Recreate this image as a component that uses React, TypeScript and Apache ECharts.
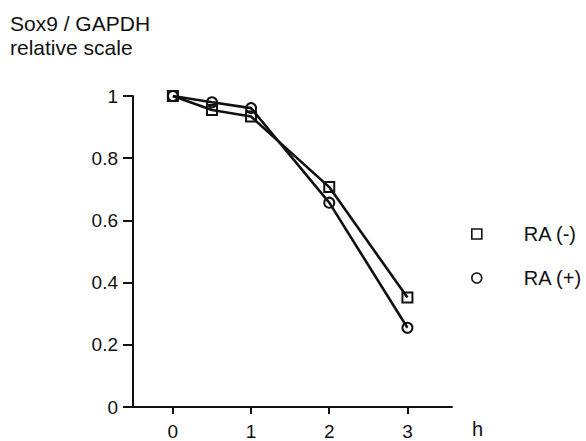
import React, { useEffect, useRef } from "react";
import * as echarts from "echarts";

const hours = [0, 0.5, 1, 2, 3];
const raMinus = [1.0, 0.955, 0.934, 0.707, 0.352];
const raPlus = [1.0, 0.98, 0.961, 0.657, 0.255];
const xTicks = [0, 1, 2, 3];
const seriesNames = ["RA (-)", "RA (+)"];
const titleText = "Sox9 / GAPDH\nrelative scale";
const xName = "h";

const FONT = "'Liberation Sans', Arial, Helvetica, sans-serif";
const INK = "#111";

export default function App() {
  const ref = useRef<HTMLDivElement>(null);
  useEffect(() => {
    if (!ref.current) return;
    const chart = echarts.init(ref.current, null, { renderer: "svg" });
    const pair = (xs: number[], ys: number[]) => xs.map((x, i) => [x, ys[i]]);
    chart.setOption({
      animation: false,
      backgroundColor: "#fff",
      textStyle: { fontFamily: FONT, color: INK },
      title: {
        text: titleText,
        left: 10,
        top: 12,
        padding: 0,
        textStyle: { fontFamily: FONT, fontSize: 21, fontWeight: "normal", color: INK, lineHeight: 23.5 },
      },
      legend: {
        orient: "vertical",
        left: 471,
        top: 224,
        padding: 0,
        itemWidth: 10,
        itemHeight: 10,
        itemGap: 24,
        data: [
          { name: seriesNames[0], icon: "rect" },
          { name: seriesNames[1], icon: "circle" },
        ],
        itemStyle: { color: "transparent", borderColor: INK, borderWidth: 1.6 },
        textStyle: { fontFamily: FONT, fontSize: 20, color: INK, padding: [0, 0, 0, 37] },
      },
      grid: { left: 133, right: 134, top: 96, bottom: 30, containLabel: false },
      xAxis: {
        type: "value",
        min: -0.51,
        max: 3.57,
        name: xName,
        nameLocation: "end",
        nameGap: 20,
        nameTextStyle: { fontFamily: FONT, fontSize: 20, color: INK, align: "left", verticalAlign: "top", padding: [12, 0, 0, 0] },
        axisLine: { show: true, onZero: false, lineStyle: { color: INK, width: 2 } },
        axisTick: { show: true, inside: false, length: 7, lineStyle: { color: INK, width: 2 }, customValues: xTicks },
        axisLabel: { show: true, margin: 15, fontFamily: FONT, fontSize: 19, color: INK, customValues: xTicks },
        splitLine: { show: false },
      },
      yAxis: {
        type: "value",
        min: 0,
        max: 1,
        interval: 0.2,
        axisLine: { show: true, onZero: false, lineStyle: { color: INK, width: 2 } },
        axisTick: { show: true, inside: false, length: 10, lineStyle: { color: INK, width: 2 } },
        axisLabel: { show: true, margin: 15, fontFamily: FONT, fontSize: 19, color: INK },
        splitLine: { show: false },
      },
      series: [
        {
          name: seriesNames[1],
          type: "line",
          data: pair(hours, raPlus),
          symbol: "circle",
          symbolSize: 10,
          lineStyle: { color: INK, width: 2.6 },
          itemStyle: { color: "transparent", borderColor: INK, borderWidth: 2 },
          z: 2,
        },
        {
          name: seriesNames[0],
          type: "line",
          data: pair(hours, raMinus),
          symbol: "rect",
          symbolSize: 10,
          lineStyle: { color: INK, width: 2.6 },
          itemStyle: { color: "transparent", borderColor: INK, borderWidth: 2 },
          z: 3,
        },
      ],
    });
    return () => chart.dispose();
  }, []);
  return <div ref={ref} style={{ position: "fixed", left: 0, top: 0, width: 586, height: 441 }} />;
}
